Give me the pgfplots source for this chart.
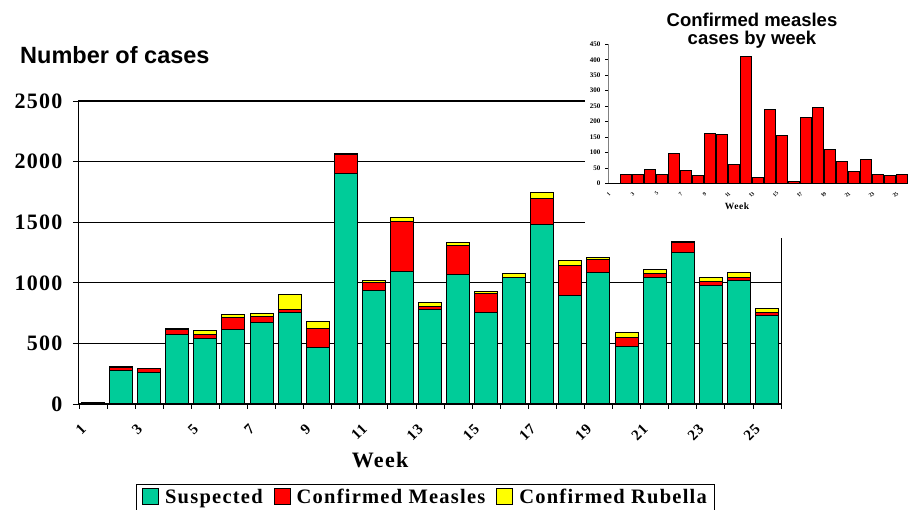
\documentclass[border=0pt]{standalone}
\usepackage{pgfplots}
\pgfplotsset{compat=1.18}
\usepackage{fontspec}
\setmainfont{Liberation Serif}
\newfontfamily\tnr[LetterSpace=6]{Liberation Serif}
\newfontfamily\arial{Liberation Sans}
\definecolor{susp}{RGB}{0,204,153}
\definecolor{meas}{RGB}{255,0,0}
\definecolor{rube}{RGB}{255,255,0}

% weekly counts: suspected, confirmed measles, confirmed rubella
\pgfplotstableread{
week susp meas rube
1  12   0   0
2  275  30  3
3  262  27  5
4  570  46  3
5  540  30  40
6  618  96  26
7  675  43  28
8  756  25  124
9  465  162 52
10 1900 158 8
11 940  62  14
12 1097 412 26
13 783  18  38
14 1070 240 24
15 754  155 17
16 1042 5   26
17 1483 213 46
18 897  245 40
19 1086 108 16
20 476  70  42
21 1042 38  32
22 1252 78  10
23 980  30  34
24 1020 25  42
25 730  28  28
}\cases

\begin{document}
\begin{tikzpicture}
\useasboundingbox (0pt,0pt) rectangle (908pt,510pt);
\begin{axis}[
    at={(79pt,106pt)}, anchor=south west,
    width=702pt, height=303pt, scale only axis,
    ybar stacked, bar width=0.82,
    xmin=0.5, xmax=25.5, ymin=0, ymax=2500,
    ytick={0,500,...,2500},
    xtick={1,3,...,25},
    minor xtick={0.5,1.5,...,25.5},
    xtick pos=bottom, ytick pos=left,
    every major x tick/.append style={draw=none},
    tick align=outside, major tick length=6pt, minor tick length=5pt,
    tick style={black, line width=0.8pt},
    ymajorgrids, grid style={black, line width=0.8pt},
    axis line style={black, line width=1pt},
    /pgf/number format/assume math mode=true,
    /pgf/number format/set thousands separator={},
    yticklabel style={font=\tnr\bfseries\fontsize{22}{22}\selectfont, xshift=-7pt},
    xticklabel style={font=\tnr\bfseries\fontsize{15}{15}\selectfont, xshift=-7pt, yshift=-14pt, rotate=45, anchor=east},
    xlabel={Week},
    xlabel style={font=\tnr\bfseries\fontsize{22}{22}\selectfont, at={(axis description cs:0.429,0)}, anchor=base, yshift=-64pt},
    legend columns=3,
    legend style={at={(0.4936,-0.264)}, anchor=north, draw=black, line width=1pt,
      font=\tnr\bfseries\fontsize{20.5}{20.5}\selectfont, inner xsep=6pt, inner ysep=3pt,
      /tikz/every odd column/.append style={column sep=4pt},
      /tikz/every even column/.append style={column sep=9pt}},
    legend image code/.code={\draw[#1, draw=black, line width=1pt] (0pt,-7pt) rectangle (16pt,9pt);},
    every axis plot/.append style={draw=black, line width=1pt},
]
\addplot[fill=susp] table[x=week, y=susp] {\cases};
\addplot[fill=meas] table[x=week, y=meas] {\cases};
\addplot[fill=rube] table[x=week, y=rube] {\cases};
\legend{Suspected, Confirmed Measles, Confirmed Rubella}
\end{axis}
\node[anchor=base west, inner sep=0pt, font=\arial\bfseries\fontsize{23.5}{23.5}\selectfont] at (20pt,446pt) {Number of cases};
\fill[white] (585pt,272pt) rectangle (908pt,510pt);
\begin{axis}[
    at={(608pt,326.7pt)}, anchor=south west,
    width=300pt, height=139pt, scale only axis,
    ybar, bar width=0.9,
    xmin=0.5, xmax=25.5, ymin=0, ymax=450,
    ytick={0,50,...,450},
    xtick={1,3,...,25},
    axis lines=left, axis line style={-, line width=1pt},
    y axis line style={gray},
    tick align=outside, major tick length=3pt,
    tick style={black, line width=0.6pt},
    every major x tick/.append style={draw=none},
    /pgf/number format/assume math mode=true,
    yticklabel style={font=\bfseries\fontsize{7}{7}\selectfont, xshift=-1pt},
    xticklabel style={font=\bfseries\fontsize{5.5}{5.5}\selectfont, xshift=-2pt, yshift=-4pt, rotate=45, anchor=east},
    xlabel={Week},
    xlabel style={font=\tnr\bfseries\fontsize{9.5}{9.5}\selectfont, at={(axis description cs:0.43,0)}, anchor=base, yshift=-26pt},
]
\addplot[fill=meas, draw=black, line width=1pt] coordinates {
(2,30) (3,27) (4,46) (5,30) (6,96) (7,43) (8,25) (9,162) (10,158) (11,62)
(12,412) (13,18) (14,240) (15,155) (16,5) (17,213) (18,245) (19,108)
(20,70) (21,38) (22,78) (23,30) (24,25) (25,28)};
\end{axis}
\node[align=center, font=\arial\bfseries\fontsize{18.5}{17.7}\selectfont, anchor=base] at (752pt,465.7pt) {Confirmed measles\\cases by week};
\end{tikzpicture}
\end{document}
